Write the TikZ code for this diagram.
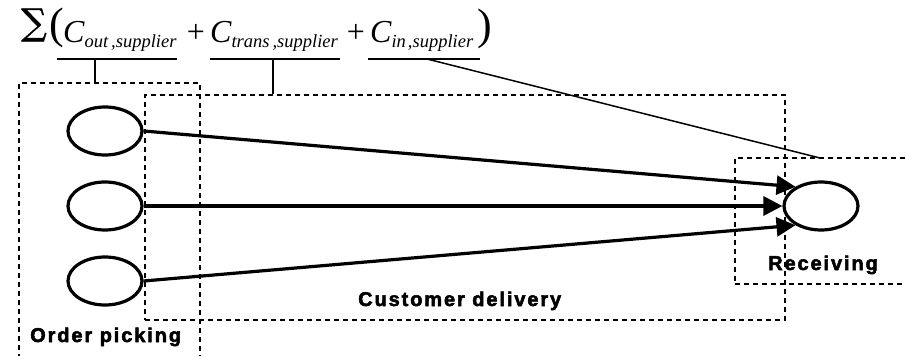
\documentclass[tikz,border=0pt]{standalone}
\usepackage{fontspec}
\setmainfont{Liberation Serif}
\newfontfamily\lblfont{Liberation Sans}[LetterSpace=9.5, FakeBold=2.5]
\newfontfamily\symfont{DejaVu Serif}[FakeBold=1]
\usetikzlibrary{arrows.meta,shapes.geometric}

% cost term: italic C with a lowered subscript
\newcommand{\costterm}[1]{{\itshape\fontsize{32}{32}\selectfont C\raisebox{-5pt}{\fontsize{18.5}{18.5}\selectfont #1}}}

\tikzset{
  dbox/.style={draw, line width=1.8pt, dash pattern=on 5pt off 4pt, inner sep=0pt, anchor=north west},
  stage/.style={draw, ellipse, line width=3.2pt, minimum width=74pt, minimum height=48pt, inner sep=0pt},
  flow/.style={line width=3.2pt, -{Triangle[length=19pt,width=19pt]}},
  lead/.style={line width=1.5pt},
  tag/.style={inner sep=0pt, anchor=base west, font=\lblfont\bfseries\fontsize{20}{20}\selectfont},
  term/.style={inner sep=0pt, anchor=base west},
}

\begin{document}
\begin{tikzpicture}[x=1pt, y=-1pt]
\useasboundingbox (0,0) rectangle (906,356);

% cost formula
\node[inner sep=0pt] (sum) at (34,25) {\symfont\fontsize{36}{36}\selectfont ∑};
\node[inner sep=0pt] (lp) at (57,28) {\fontsize{44}{44}\selectfont (};
\node[term] (cout) at (63,42) {\costterm{out\hspace{3pt},supplier}};
\node[term, anchor=base] (p1) at (196,42) {\fontsize{32}{32}\selectfont +};
\node[term] (ctrans) at (210,42) {\costterm{trans\hspace{3pt},supplier}};
\node[term, anchor=base] (p2) at (356,42) {\fontsize{32}{32}\selectfont +};
\node[term] (cin) at (370,42) {\costterm{in\hspace{2pt},supplier}};
\node[inner sep=0pt] (rp) at (485,29) {\fontsize{44}{44}\selectfont )};

% underlines of the three cost terms
\coordinate (u1a) at (57,59);  \coordinate (u1b) at (177,59);
\coordinate (u2a) at (210,59); \coordinate (u2b) at (340,59);
\coordinate (u3a) at (368,59); \coordinate (u3b) at (480,59);
\draw[lead] (u1a) -- (u1b);
\draw[lead] (u2a) -- (u2b);
\draw[lead] (u3a) -- (u3b);

% process areas
\node[dbox, minimum width=181pt, minimum height=330pt] (op) at (18,82) {};
\node[dbox, minimum width=640pt, minimum height=225pt] (cd) at (144,94) {};
\node[dbox, minimum width=220pt, minimum height=126pt] (rc) at (734,157) {};

% leaders from the terms to their areas
\coordinate (t1) at (95,59);
\coordinate (t2) at (273,59);
\coordinate (t3) at (427,59);
\coordinate (t3e) at (820,158);
\draw[lead] (t1) -- (t1 |- op.north);
\draw[lead] (t2) -- (t2 |- cd.north);
\draw[lead] (t3) -- (t3e);

% suppliers and customer
\node[stage] (s1) at (105,131) {};
\node[stage] (s2) at (105,206) {};
\node[stage] (s3) at (105,281) {};
\node[stage] (r) at (821,206) {};

\draw[flow] (s1.east) -- (r.143);
\draw[flow] (s2.east) -- (r.west);
\draw[flow] (s3.east) -- (r.217);

% area labels
\node[tag] (lop) at (30,342) {Order picking};
\node[tag] (lcd) at (358,306) {Customer delivery};
\node[tag] (lrc) at (768,270) {Receiving};
\end{tikzpicture}
\end{document}
